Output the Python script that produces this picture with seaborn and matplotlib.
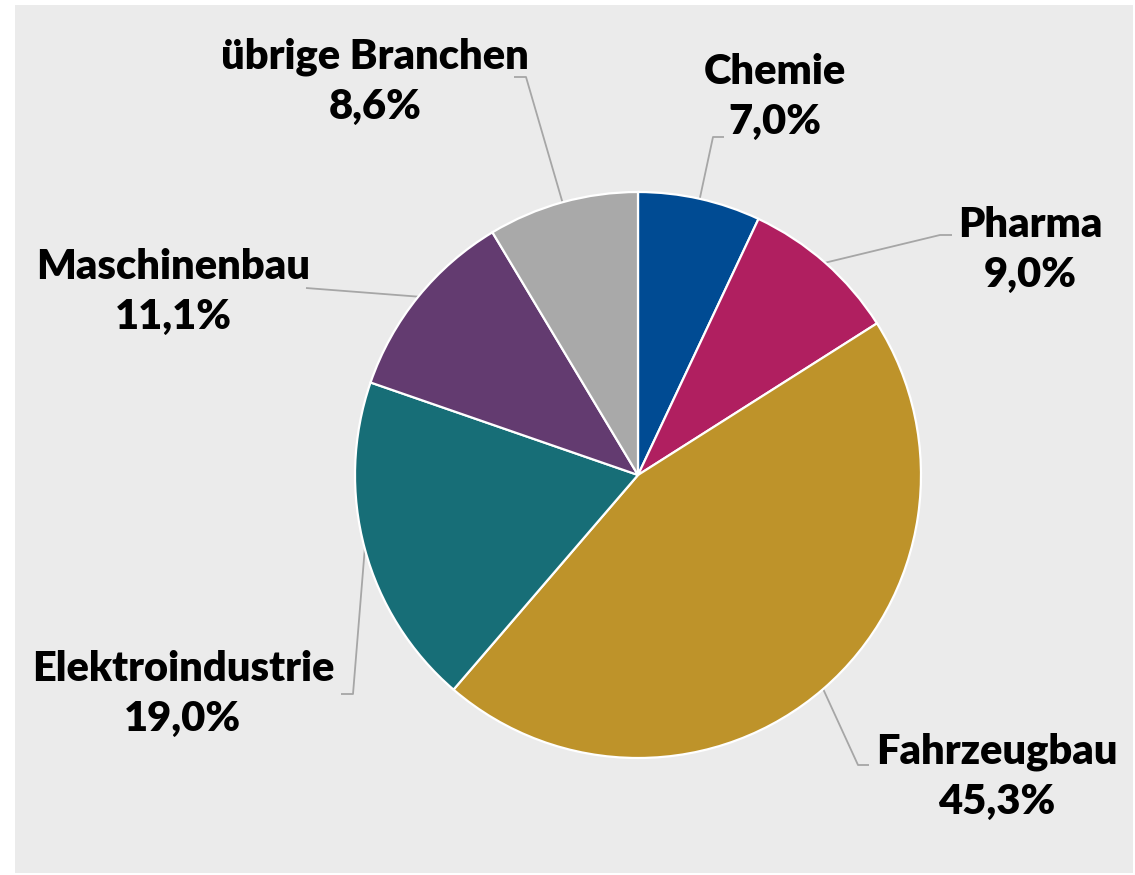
import matplotlib
matplotlib.use("Agg")
import matplotlib.pyplot as plt
import seaborn as sns
import numpy as np

# ---- data ----
categories = ["Chemie", "Pharma", "Fahrzeugbau", "Elektroindustrie", "Maschinenbau", "übrige Branchen"]
shares = [7.0, 9.0, 45.3, 19.0, 11.1, 8.6]
colors = ["#004b93", "#b01f60", "#be932a", "#176e77", "#633b70", "#a9a9a9"]

# label layout (data units, pie radius = 1)
label_pos = [(0.484, 1.336), (1.385, 0.795), (1.269, -1.067),
             (-1.608, -0.774), (-1.643, 0.647), (-0.929, 1.389)]
# leader elbows and ends (pixel layout, converted to data units)
leader_elbow = [(713, 137), (940, 235), (858, 765), (353, 694), (306, 288), (526, 77)]
leader_end = [(724, 137), (952, 235), (869, 765), (341, 694), (306, 288), (514, 77)]

sns.set_theme(style="white")
plt.rcParams["font.family"] = ["Lato", "DejaVu Sans"]

W, H = 1135, 875
fig = plt.figure(figsize=(W / 100, H / 100), dpi=100)
fig.patch.set_facecolor("white")
ax = fig.add_axes([15 / W, (H - 873) / H, (1133 - 15) / W, (873 - 5) / H])

palette = sns.color_palette(colors)
wedges, _ = ax.pie(shares, colors=palette, startangle=90, counterclock=False,
                   radius=1.0, wedgeprops=dict(edgecolor="white", linewidth=1.6))

cx, cy, R = 638, 475, 283
def px2d(p):
    return ((p[0] - cx) / R, (cy - p[1]) / R)

ax.set_frame_on(True)
for s in ax.spines.values():
    s.set_visible(False)
ax.set_facecolor("#ebebeb")
ax.set_xlim((15 - cx) / R, (1133 - cx) / R)
ax.set_ylim((cy - 873) / R, (cy - 5) / R)
ax.set_aspect("auto")

for i, w in enumerate(wedges):
    ang = np.deg2rad((w.theta1 + w.theta2) / 2)
    ex, ey = np.cos(ang) * w.r, np.sin(ang) * w.r
    bx, by = px2d(leader_elbow[i])
    nx, ny = px2d(leader_end[i])
    ax.plot([ex, bx, nx], [ey, by, ny], color="#a6a6a6", lw=1.3, solid_capstyle="butt", zorder=0.5)
    lx, ly = label_pos[i]
    txt = f"{categories[i]}\n{shares[i]:.1f}%".replace(".", ",")
    ax.text(lx, ly, txt, ha="center", va="center", multialignment="center",
            fontsize=30, fontweight="heavy", color="black", linespacing=1.38)

fig.savefig("out.png", dpi=100)
